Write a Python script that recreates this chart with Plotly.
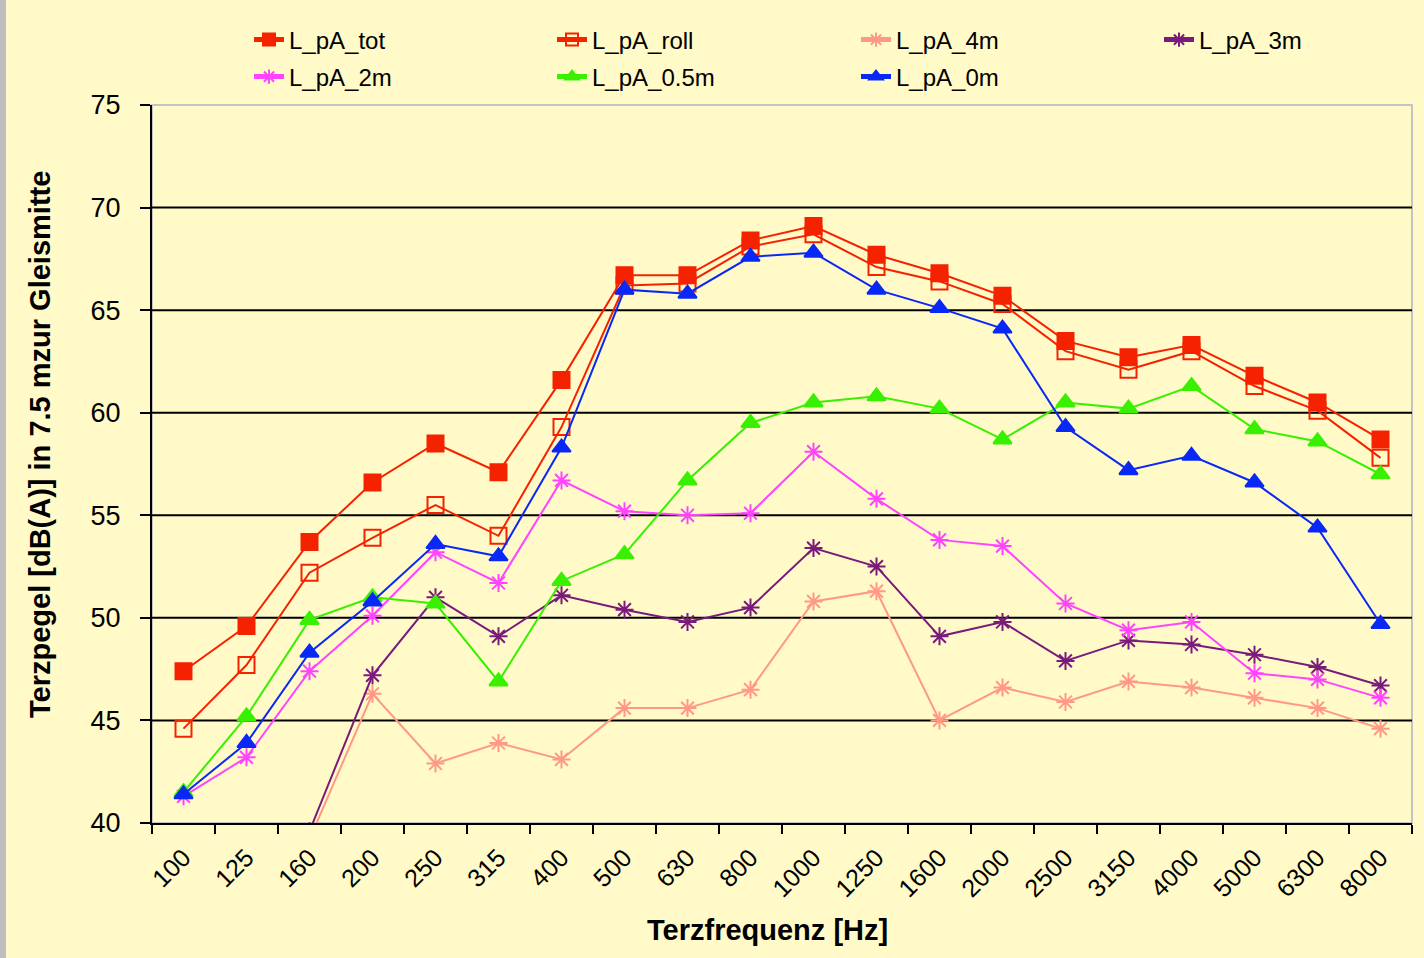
import plotly.graph_objects as go

freqs = ["100", "125", "160", "200", "250", "315", "400", "500", "630", "800",
         "1000", "1250", "1600", "2000", "2500", "3150", "4000", "5000", "6300", "8000"]

L_pA_tot = [47.4, 49.6, 53.7, 56.6, 58.5, 57.1, 61.6, 66.7, 66.7, 68.4,
            69.1, 67.7, 66.8, 65.7, 63.5, 62.7, 63.3, 61.8, 60.5, 58.7]
L_pA_roll = [44.6, 47.7, 52.2, 53.9, 55.5, 54.0, 59.3, 66.2, 66.3, 68.1,
             68.7, 67.1, 66.4, 65.3, 63.0, 62.1, 63.0, 61.3, 60.1, 57.8]
L_pA_4m = [None, None, 39.2, 46.3, 42.9, 43.9, 43.1, 45.6, 45.6, 46.5,
           50.8, 51.3, 45.0, 46.6, 45.9, 46.9, 46.6, 46.1, 45.6, 44.6]
L_pA_3m = [None, None, 39.6, 47.2, 51.0, 49.1, 51.1, 50.4, 49.8, 50.5,
           53.4, 52.5, 49.1, 49.8, 47.9, 48.9, 48.7, 48.2, 47.6, 46.7]
L_pA_2m = [41.3, 43.2, 47.4, 50.1, 53.2, 51.7, 56.7, 55.2, 55.0, 55.1,
           58.1, 55.8, 53.8, 53.5, 50.7, 49.4, 49.8, 47.3, 47.0, 46.1]
L_pA_05m = [41.5, 45.2, 49.9, 51.0, 50.7, 46.9, 51.8, 53.1, 56.7, 59.5,
            60.5, 60.8, 60.2, 58.7, 60.5, 60.2, 61.3, 59.2, 58.6, 57.0]
L_pA_0m = [41.4, 43.9, 48.3, 50.8, 53.6, 53.0, 58.3, 66.0, 65.8, 67.6,
           67.8, 66.0, 65.1, 64.1, 59.3, 57.2, 57.9, 56.6, 54.4, 49.7]

grid_vals = [45, 50, 55, 60, 65, 70]

series = [
    ("L_pA_tot", L_pA_tot, "#F52200", "square", 16),
    ("L_pA_roll", L_pA_roll, "#F52200", "square-open", 16),
    ("L_pA_4m", L_pA_4m, "#FF9985", "asterisk-open", 15),
    ("L_pA_3m", L_pA_3m, "#7A1A7A", "asterisk-open", 15),
    ("L_pA_2m", L_pA_2m, "#FF44FF", "asterisk-open", 15),
    ("L_pA_0.5m", L_pA_05m, "#38F000", "triangle-up", 16),
    ("L_pA_0m", L_pA_0m, "#0A28F5", "triangle-up", 16),
]

BG = "#FFFAC8"
W, H = 1424, 958
L, R, T, B = 152, 12, 105, 135
pw = W - L - R
ph = H - T - B


def px_x(p):
    return (p - L) / pw


def px_y(p):
    return (H - B - p) / ph


# legend text positions (page pixels): (text_x, row_y)
legend_pos = [(290, 40), (593, 40), (897, 40), (1200, 40),
              (290, 77), (593, 77), (897, 77)]

font_main = "Liberation Sans, Arial, sans-serif"

fig = go.Figure()
layout_legends = {}
for i, (name, vals, col, sym, size) in enumerate(series):
    leg_id = "legend" if i == 0 else f"legend{i + 1}"
    fig.add_trace(go.Scatter(
        x=freqs, y=vals, name=name, mode="lines+markers",
        line=dict(color=col, width=2),
        marker=dict(symbol=sym, size=size, color=col,
                    line=dict(color=col, width=2)),
        legend=leg_id, connectgaps=False, cliponaxis=True,
    ))
    tx, ty = legend_pos[i]
    layout_legends[leg_id] = dict(
        orientation="h", x=px_x(tx - 41), y=px_y(ty), xanchor="left", yanchor="middle",
        bgcolor="rgba(0,0,0,0)", font=dict(size=24, family=font_main),
        itemsizing="constant")

shapes = []
shapes.append(dict(type="rect", xref="paper", yref="paper", x0=0, x1=1, y0=0, y1=1,
                   line=dict(color="#C4C4C4", width=2), layer="below"))
for g in grid_vals:
    shapes.append(dict(type="line", xref="paper", yref="y", x0=0, x1=1, y0=g, y1=g,
                       line=dict(color="#000000", width=2), layer="below"))
shapes.append(dict(type="rect", xref="paper", yref="paper",
                   x0=px_x(0), x1=px_x(6), y0=px_y(H), y1=px_y(0),
                   fillcolor="#BEBEBE", line=dict(width=0), layer="below"))

fig.update_layout(
    width=W, height=H,
    margin=dict(l=L, r=R, t=T, b=B, autoexpand=False),
    paper_bgcolor=BG,
    plot_bgcolor=BG,
    font=dict(family=font_main, size=24, color="#000000"),
    showlegend=True,
    shapes=shapes,
    xaxis=dict(type="category", categoryorder="array", categoryarray=freqs,
               range=[-0.5, 19.5], showgrid=False, showline=True, linecolor="#000000",
               linewidth=2, ticks="outside", tickson="boundaries", ticklen=9,
               tickwidth=2, tickcolor="#000000", tickangle=-45, automargin=False,
               ticklabelstandoff=8,
               tickfont=dict(size=25, family=font_main), zeroline=False),
    yaxis=dict(range=[40, 75], dtick=5, tick0=40, showgrid=False, showline=True,
               linecolor="#000000", linewidth=2, ticks="outside", ticklen=10,
               tickwidth=2, tickcolor="#000000", zeroline=False, automargin=False,
               ticklabelstandoff=14,
               tickfont=dict(size=27, family=font_main)),
    annotations=[
        dict(text="<b>Terzfrequenz [Hz]</b>", xref="paper", yref="paper",
             x=px_x(767), y=px_y(930), xanchor="center", yanchor="middle",
             showarrow=False, font=dict(size=29, family=font_main)),
        dict(text="<b>Terzpegel [dB(A)] in 7.5 mzur Gleismitte</b>", xref="paper", yref="paper",
             x=px_x(40), y=px_y(445), xanchor="center", yanchor="middle", textangle=-90,
             showarrow=False, font=dict(size=29, family=font_main)),
    ],
    **layout_legends,
)

fig.write_html(
    "out.html",
    config={"displayModeBar": False},
    post_script=(
        "document.body.style.margin='0px';"
        "document.body.style.padding='0px';"
        "document.body.style.overflow='hidden';"
        f"document.body.style.background='{BG}';"
    ),
)
